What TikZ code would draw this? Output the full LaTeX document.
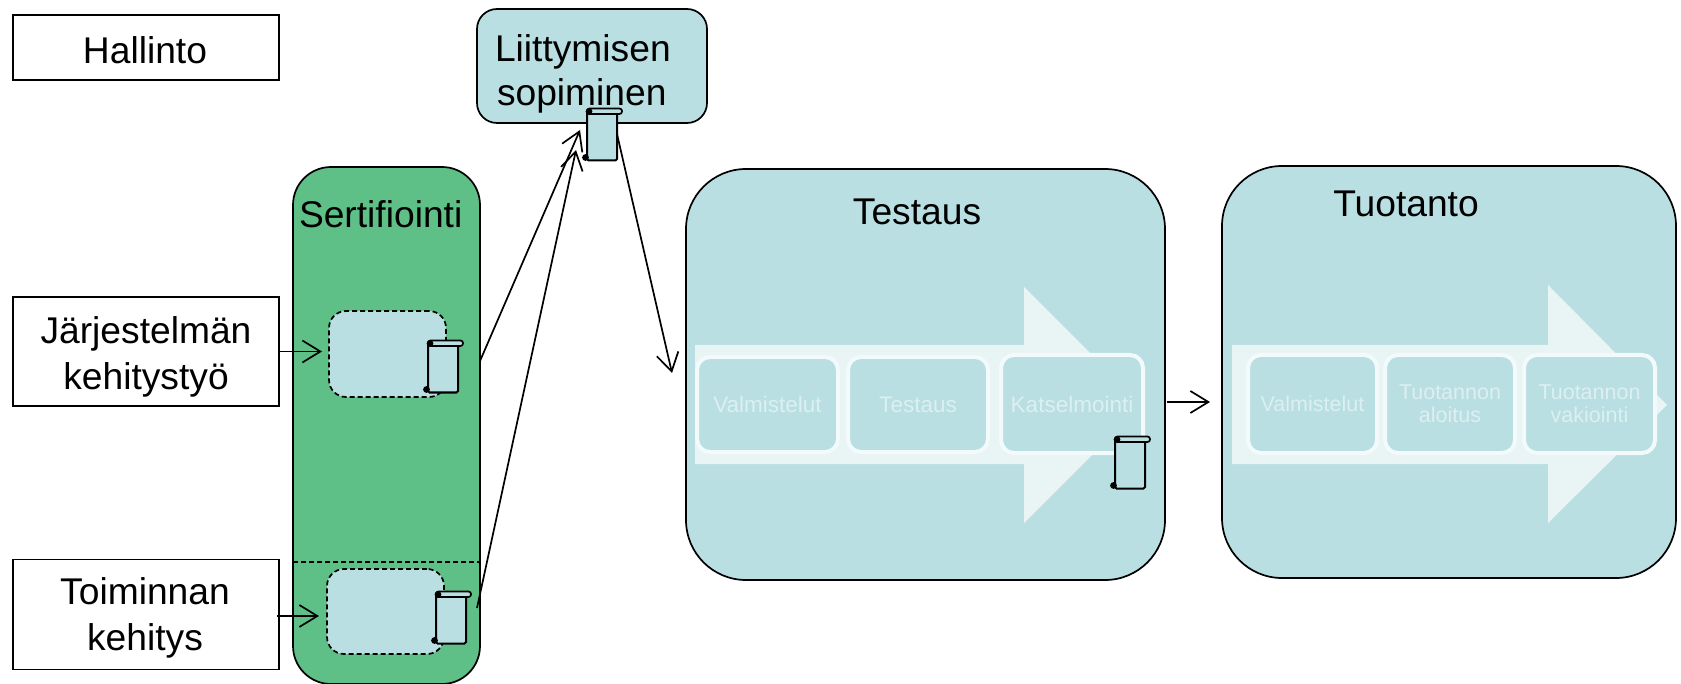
\documentclass[tikz,border=0pt]{standalone}
\usepackage{fontspec}
\setmainfont{Liberation Sans}
\usetikzlibrary{arrows.meta,calc}
\definecolor{tealfill}{HTML}{B9DFE2}
\definecolor{certgreen}{HTML}{5FC087}
\definecolor{pale}{HTML}{E9F4F5}
\definecolor{paleline}{HTML}{F3FAFB}
\definecolor{paletext}{HTML}{DCEFF1}
\tikzset{
  base/.style={inner sep=0pt,outer sep=0pt,line width=1.7pt,draw=black},
  whitebox/.style={base,fill=white},
  tealbox/.style={base,fill=tealfill,rounded corners=#1},
  certbox/.style={base,fill=certgreen,rounded corners=38pt},
  dashbox/.style={tealbox=17pt,dash pattern=on 5pt off 3pt},
  caption/.style={inner sep=0pt,outer sep=0pt,font=\fontsize{37.2}{46}\selectfont,align=center},
  stage/.style={inner sep=0pt,outer sep=0pt,draw=paleline,line width=4pt,fill=tealfill,rounded corners=13pt,
    text=paletext,font=\fontsize{21.5}{23}\selectfont,align=center},
  stagewide/.style={stage,font=\fontsize{22.5}{23}\selectfont},
  bigarrow/.style={fill=pale,draw=none},
  arr/.style={line width=1.7pt,-{Straight Barb[length=18pt,width=22pt,line width=1.7pt]}},
  scrollbody/.style={inner sep=0pt,outer sep=0pt,draw=black,line width=2pt,fill=tealfill,rounded corners=1.5pt,
    minimum width=30pt,minimum height=49pt},
  scrollbar/.style={draw=black,line width=1.7pt,fill=tealfill,rounded corners=2.5pt},
}
\newcommand{\scrollat}[3]{%
  \node[scrollbody] (#1) at (#2+15,#3+25) {};
  \draw[scrollbar] ($(#1.north west)+(0,-3)$) rectangle ($(#1.north east)+(5,2.5)$);
  \fill[black] ($(#1.north west)+(2,0)$) circle (3.4pt);
  \fill[black] ($(#1.south west)+(-1.5,-3)$) circle (3.4pt);
}
\begin{document}
\begin{tikzpicture}[x=1pt,y=-1pt]
\useasboundingbox (0,0) rectangle (1681,684);
\fill[white] (0,0) rectangle (1681,684);

% left boxes
\node[whitebox,minimum width=266pt,minimum height=65pt] (hallinto) at (146,47.5) {};
\node[caption] (hallintotext) at (145,50) {Hallinto};
\node[whitebox,minimum width=266pt,minimum height=109pt] (jarj) at (146,351.5) {};
\node[caption] (jarjtext) at (146,357) {Järjestelmän\\kehitystyö};

% certification column
\node[certbox,minimum width=187pt,minimum height=517pt] (sert) at (386.5,425.5) {};
\node[caption,anchor=base west] (serttext) at (299,228) {Sertifiointi};
\node[whitebox,minimum width=266pt,minimum height=110pt] (toim) at (146,614.5) {};
\node[caption] (toimtext) at (145,618) {Toiminnan\\kehitys};
\draw[base,dash pattern=on 5pt off 3pt] (sert.west |- 0,562) coordinate (sepL) -- (sert.east |- 0,562) coordinate (sepR);
\node[dashbox,minimum width=117pt,minimum height=86pt] (d1) at (387.5,354) {};
\node[dashbox,minimum width=117pt,minimum height=85pt] (d2) at (385.5,611.5) {};
\scrollat{s1}{428}{343}
\scrollat{s2}{436}{594}

% joining box
\node[tealbox=20pt,minimum width=230pt,minimum height=114pt] (liit) at (592,66) {};
\node[caption,anchor=base west] (liit1) at (495,62) {Liittymisen};
\node[caption,anchor=base west] (liit2) at (497,106) {sopiminen};
\scrollat{sL}{587}{111}

% testing
\node[tealbox=60pt,minimum width=479pt,minimum height=411pt] (test) at (925.5,374.5) {};
\node[caption] (testtext) at (917,212) {Testaus};
\fill[bigarrow] (695,345) -- (1024,345) -- (1024,287) -- (1142,405) -- (1024,523) -- (1024,464) -- (695,464) -- cycle;
\node[stagewide,minimum width=141pt,minimum height=95pt] (t1) at (767.5,404.5) {Valmistelut};
\node[stagewide,minimum width=140pt,minimum height=95pt] (t2) at (918,404.5) {Testaus};
\node[stagewide,minimum width=142pt,minimum height=98pt] (t3) at (1072,404) {Katselmointi};
\scrollat{s3}{1115}{439}

% production
\node[tealbox=60pt,minimum width=454pt,minimum height=412pt] (tuot) at (1449,372) {};
\node[caption] (tuottext) at (1406,204) {Tuotanto};
\fill[bigarrow] (1232,345) -- (1548,345) -- (1548,285) -- (1667,405) -- (1548,523) -- (1548,464) -- (1232,464) -- cycle;
\node[stage,minimum width=129pt,minimum height=98pt] (p1) at (1312.5,404) {Valmistelut};
\node[stage,minimum width=130pt,minimum height=98pt] (p2) at (1450,404) {Tuotannon\\aloitus};
\node[stage,minimum width=131pt,minimum height=98pt] (p3) at (1589.5,404) {Tuotannon\\vakiointi};

% connectors
\draw[arr,shorten >=7pt] (jarj.east) -- (d1.west |- jarj.east);
\draw[arr,shorten >=8pt] ($(toim.east)+(-2,1.5)$) -- ($(d2.west)+(0,4.5)$);
\draw[arr] ($(sert.east)+(0,-64.5)$) -- ($(sL.west)+(-7,-6)$);
\draw[arr] ($(sert.east)+(-3,182.5)$) -- ($(sL.west)+(-11,14)$);
\draw[arr] ($(sL.east)+(0,-2)$) -- ($(test.west)+(-14,-1.5)$);
\draw[arr] ($(test.east)+(2,27.5)$) -- ($(tuot.west)+(-12,30)$);
\end{tikzpicture}
\end{document}
